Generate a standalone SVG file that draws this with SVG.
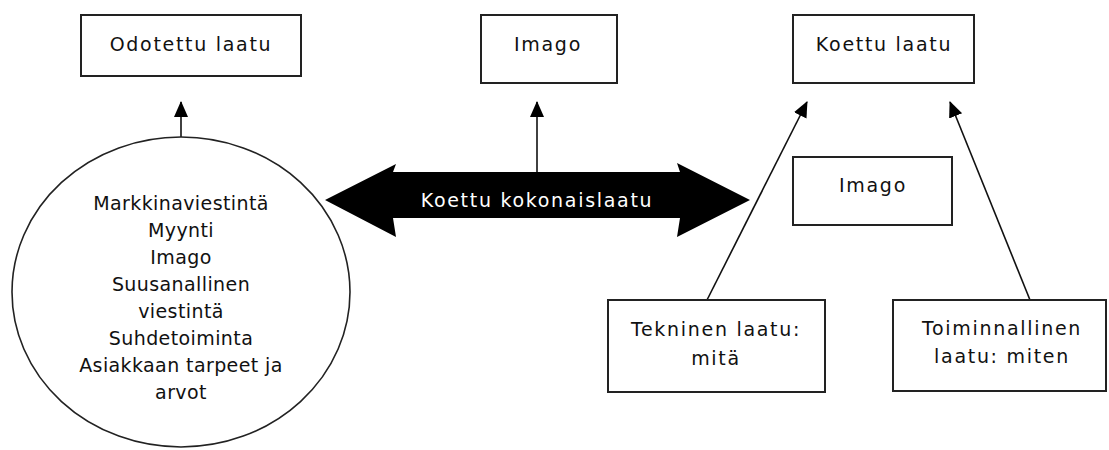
<svg xmlns="http://www.w3.org/2000/svg" width="1109" height="450" viewBox="0 0 1109 450">
<style>
.box{fill:#fff;stroke:#222;stroke-width:2}
.t{font-family:"DejaVu Sans","Liberation Sans",sans-serif;font-size:19px;fill:#111;text-anchor:middle;letter-spacing:1.7px}
.c{letter-spacing:0.4px}
.w{fill:#fff}
.ln{stroke:#111;stroke-width:1.6;fill:none}
</style>
<defs>
<marker id="ah" markerUnits="userSpaceOnUse" markerWidth="16" markerHeight="16" viewBox="0 0 16 14" refX="15" refY="7" orient="auto">
<path d="M0,0 L16,7 L0,14 Z" fill="#000"/>
</marker>
</defs>
<g id="connectors">
<line class="ln" x1="181" y1="137" x2="181" y2="102" marker-end="url(#ah)"/>
<line class="ln" x1="537" y1="172" x2="537" y2="102" marker-end="url(#ah)"/>
<line class="ln" x1="707" y1="300" x2="807" y2="102" marker-end="url(#ah)"/>
<line class="ln" x1="1030" y1="300" x2="950" y2="102" marker-end="url(#ah)"/>
</g>
<g id="odotettu">
<rect class="box" x="81" y="15" width="220" height="61"/>
<text class="t" x="191" y="51">Odotettu laatu</text>
</g>
<g id="imago-top">
<rect class="box" x="481" y="15" width="136" height="68"/>
<text class="t" x="548" y="51">Imago</text>
</g>
<g id="koettu">
<rect class="box" x="793" y="15" width="181" height="68"/>
<text class="t" x="884" y="51">Koettu laatu</text>
</g>
<g id="imago-mid">
<rect class="box" x="793" y="157" width="159" height="68"/>
<text class="t" x="873" y="192">Imago</text>
</g>
<g id="circle">
<ellipse cx="181" cy="292" rx="169" ry="155" fill="#fff" stroke="#222" stroke-width="1.6"/>
<text class="t c" x="181" y="210">Markkinaviestintä</text>
<text class="t c" x="181" y="237">Myynti</text>
<text class="t c" x="181" y="264">Imago</text>
<text class="t c" x="181" y="291">Suusanallinen</text>
<text class="t c" x="181" y="318">viestintä</text>
<text class="t c" x="181" y="345">Suhdetoiminta</text>
<text class="t c" x="181" y="372">Asiakkaan tarpeet ja</text>
<text class="t c" x="181" y="399">arvot</text>
</g>
<g id="kokonaislaatu">
<polygon points="325,200 396,164 393,172 680,172 677,163 750,200 677,237 680,218 393,218 396,237" fill="#000"/>
<text class="t w" x="537" y="207">Koettu kokonaislaatu</text>
</g>
<g id="tekninen">
<rect class="box" x="608" y="300" width="217" height="92"/>
<text class="t" x="716" y="336">Tekninen laatu:</text>
<text class="t" x="716" y="365">mitä</text>
</g>
<g id="toiminnallinen">
<rect class="box" x="893" y="300" width="213" height="91"/>
<text class="t" x="1002" y="335">Toiminnallinen</text>
<text class="t" x="1002" y="363">laatu: miten</text>
</g>
</svg>
